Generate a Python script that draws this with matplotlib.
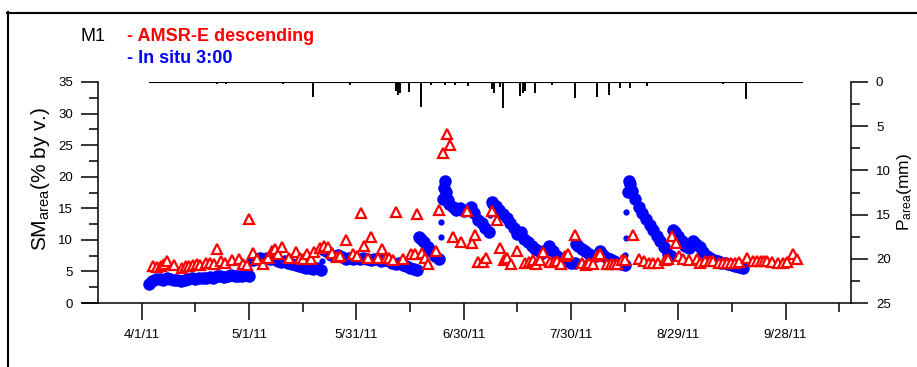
import matplotlib
matplotlib.use('Agg')
import matplotlib.pyplot as plt
import numpy as np
import pandas as pd
from matplotlib.lines import Line2D

plt.rcParams['font.family'] = ['Liberation Sans', 'DejaVu Sans']
plt.rcParams['mathtext.fontset'] = 'custom'
plt.rcParams['mathtext.rm'] = 'Liberation Sans'
plt.rcParams['mathtext.it'] = 'Liberation Sans:italic'

# ---------------- data (day offsets from 4/1/2011) ----------------
insitu_day = [2, 3, 4, 5, 6, 7, 8, 9, 10, 11, 12, 13, 14, 15, 16, 17, 18, 19, 20,
              21, 22, 23, 24, 25, 26, 27, 28, 29, 30,
              31, 32, 33, 34, 35, 36, 37, 38, 39, 40, 41, 42, 43, 44, 45, 46, 47, 48, 49, 50,
              51, 52, 53, 54, 55, 56, 57, 58, 59, 60, 61, 62, 63, 64, 65, 66, 67, 68, 69, 70,
              71, 72, 73, 74, 75, 76, 77,
              77.5, 78, 79, 80, 81, 82, 83,
              84.2, 84.5, 84.8, 85.2, 85.6,
              86, 87, 88, 89, 90, 91, 92, 93, 94, 95, 96, 97, 97.8, 98.3,
              99, 100, 101, 102, 103, 104, 105, 106, 107, 108, 109, 110, 111, 112, 113, 114,
              115, 116, 117, 118, 119, 120, 121, 121.5, 122, 123, 124, 125, 126, 127, 128,
              129, 130, 131, 132, 133, 134, 135,
              135.9, 136.2, 136.6,
              137, 138, 139, 140, 141, 142, 143, 144, 145, 146, 147, 148, 148.5, 149, 150,
              151, 152, 153, 154, 155, 156, 157, 158, 159, 160, 161, 162, 163, 164, 165,
              166, 167, 168]
insitu_sm = [3.0, 3.5, 3.8, 3.8, 3.7, 3.9, 3.8, 3.6, 3.7, 3.5, 3.7, 3.8, 3.9, 3.8, 3.9, 4.0, 3.9, 4.1, 4.0,
             4.2, 4.3, 4.1, 4.2, 4.4, 4.3, 4.2, 4.3, 4.4, 4.3,
             6.8, 7.0, 7.1, 7.0, 7.2, 7.0, 6.9, 6.7, 6.5, 6.6, 6.4, 6.2, 6.0, 5.8, 5.7, 5.5, 5.6, 5.4, 5.5, 5.3,
             8.4, 8.0, 7.6, 7.4, 7.6, 7.3, 7.0, 7.2, 6.9, 7.1, 7.0, 7.2, 7.0, 6.8, 7.0, 6.9, 6.7, 6.8, 6.6, 6.4,
             6.2, 6.3, 6.0, 5.8, 5.6, 5.4, 5.3,
             10.5, 10.2, 9.6, 8.9, 8.2, 7.5, 6.9,
             16.5, 18.2, 19.4, 17.6, 16.3,
             15.6, 15.2, 14.8, 15.0, 14.5, 14.8, 15.2, 14.2, 13.2, 12.6, 11.8, 11.2, 16.0, 15.6,
             15.3, 14.7, 14.1, 13.4, 12.6, 11.8, 11.0, 11.3, 10.2, 9.6, 9.0, 8.6, 8.2, 7.9, 8.4, 9.0,
             8.2, 7.5, 7.0, 6.8, 6.6, 6.4, 6.3, 9.3, 9.0, 8.6, 8.2, 7.8, 7.5, 7.4, 8.3,
             7.6, 7.2, 6.9, 6.6, 6.4, 6.2, 6.0,
             17.6, 19.4, 18.8,
             17.8, 16.5, 15.2, 14.2, 13.3, 12.4, 11.5, 10.6, 9.8, 8.8, 7.8, 7.4, 11.6, 11.2, 10.6,
             9.8, 9.0, 8.7, 9.8, 9.4, 8.8, 8.1, 7.5, 7.1, 6.8, 6.6, 6.4, 6.3, 6.1, 6.0,
             5.8, 5.7, 5.6]
# isolated in situ readings during rapid wetting
insitu_wet_day = [50.5, 83.6, 83.8, 97.5, 135.1, 135.3, 135.5]
insitu_wet_sm = [6.6, 10.5, 12.8, 14.0, 7.6, 10.3, 14.4]

amsr_day = [3.1, 4.2, 5.3, 6.1, 7.2, 9.0, 11.2, 12.4, 13.3, 14.4, 15.4, 16.3, 18.0, 19.1, 20.2,
            21.0, 22.1, 23.3, 25.2, 27.3, 28.4, 29.4, 30.1, 31.2, 32.1, 34.0, 35.2, 36.3, 37.3,
            38.2, 39.1, 41.3, 43.1, 44.3, 45.0, 46.1, 47.2, 48.2, 49.9, 51.0, 52.2, 53.1, 54.5,
            55.3, 57.1, 59.0, 60.1, 61.2, 62.2, 63.2, 64.2, 66.2, 67.1, 68.3, 69.2, 70.2, 71.1,
            73.1, 75.2, 76.4, 77.1, 78.3, 79.2, 80.1, 82.3, 83.0, 84.1, 85.3, 86.2, 87.1, 89.2,
            91.0, 92.3, 93.2, 94.1, 95.3, 96.3, 98.0, 99.2, 100.2, 101.3, 102.2, 103.2, 105.0,
            107.2, 108.4, 109.3, 110.2, 111.4, 112.3, 114.2, 115.3, 116.2, 117.1, 118.3, 119.3,
            121.1, 123.0, 124.2, 125.1, 126.3, 127.2, 128.1, 130.0, 131.1, 132.0, 133.0, 134.2,
            135.1, 137.3, 139.1, 140.4, 141.9, 143.0, 144.2, 146.3, 147.2, 148.2, 149.4, 150.3,
            151.2, 153.1, 155.2, 156.1, 157.6, 158.9, 159.8, 161.3, 162.4, 163.5, 164.7, 165.9,
            167.1, 169.1, 170.8, 171.9, 173.0, 174.0, 174.9, 176.1, 178.0, 179.2, 180.3, 182.2,
            183.3]
amsr_sm = [5.8, 5.7, 5.8, 6.2, 6.6, 6.0, 5.5, 5.8, 5.9, 6.0, 6.1, 6.0, 6.3, 6.3, 6.2,
           8.5, 6.6, 6.3, 6.8, 6.9, 6.2, 6.0, 13.3, 7.9, 6.9, 6.2, 7.1, 8.3, 8.5,
           7.7, 8.8, 7.1, 8.0, 7.2, 6.9, 7.8, 7.0, 8.0, 8.7, 9.1, 8.9, 7.9, 7.3,
           7.4, 10.0, 7.8, 7.4, 14.2, 9.0, 7.1, 10.5, 7.1, 8.5, 7.2, 7.1, 6.8, 14.4,
           6.9, 7.8, 7.8, 14.1, 7.9, 7.2, 6.2, 8.2, 14.7, 23.7, 26.8, 25.0, 10.5, 9.6,
           14.5, 9.5, 10.8, 6.5, 6.5, 7.2, 14.6, 13.2, 8.7, 6.8, 7.2, 6.2, 8.3,
           6.3, 6.5, 6.8, 6.2, 6.8, 8.1, 6.5, 6.5, 6.7, 6.1, 7.4, 7.7,
           10.8, 6.3, 6.0, 6.4, 6.2, 7.4, 7.7, 6.2, 6.2, 6.1, 6.2, 6.8,
           6.8, 10.8, 6.9, 6.6, 6.4, 6.3, 6.4, 6.8, 7.0, 10.6, 9.5, 7.4,
           6.9, 6.8, 7.0, 6.3, 6.7, 6.7, 6.7, 6.4, 6.3, 6.3, 6.3, 6.4,
           6.5, 7.2, 6.7, 6.7, 6.7, 6.7, 6.7, 6.5, 6.3, 6.4, 6.5, 7.7,
           6.9]

rain_start_day, rain_end_day = 2, 185
rain_day = [21, 23.6, 39.4, 47.8, 58.2, 71.1, 71.7, 72.2, 74.6, 78.1, 81.0, 84.8, 87.6,
            91.1, 97.8, 98.5, 100.2, 100.9, 105.8, 106.6, 107.2, 110.0, 114.6, 121.1,
            127.2, 130.7, 133.7, 136.5, 141.2, 158.0, 162.5, 168.9, 178.9]
rain_mm = [0.2, 0.2, 0.2, 1.7, 0.3, 1.0, 1.5, 1.3, 1.1, 2.8, 0.3, 0.3, 0.3,
           0.5, 0.8, 1.2, 0.6, 2.9, 1.6, 1.3, 1.0, 1.2, 0.3, 1.8,
           1.7, 1.5, 0.7, 0.7, 0.4, 0.1, 0.2, 1.9, 0.1]

x_major_days = [0, 30, 60, 90, 120, 150, 180]
x_labels = ['4/1/11', '5/1/11', '5/31/11', '6/30/11', '7/30/11', '8/29/11', '9/28/11']
x_minor_days = [15, 45, 75, 105, 135, 165, 195]

start = pd.Timestamp('2011-04-01')
def to_dates(days):
    return start + pd.to_timedelta(np.asarray(days, dtype=float), unit='D')

W, H = 917, 367
fig = plt.figure(figsize=(W / 100, H / 100), dpi=100)

ax_l, ax_r, ax_t, ax_b = 82, 851, 82, 303
ax = fig.add_axes([ax_l / W, 1 - ax_b / H, (ax_r - ax_l) / W, (ax_b - ax_t) / H])
ax2 = ax.twinx()

BLUE = '#0000FF'
RED = '#FF0000'
ax.plot(to_dates(insitu_day), insitu_sm, linestyle='none', marker='o', ms=9,
        mfc=BLUE, mec=BLUE, mew=0, zorder=3)
ax.plot(to_dates(insitu_wet_day), insitu_wet_sm, linestyle='none', marker='o', ms=4.5,
        mfc=BLUE, mec=BLUE, mew=0, zorder=3)
ax.plot(to_dates(amsr_day), amsr_sm, linestyle='none', marker='^', ms=7,
        mfc='white', mec=RED, mew=1.6, zorder=4)

ax2.hlines(0, to_dates([rain_start_day])[0], to_dates([rain_end_day])[0], color='black', lw=1.5)
ax2.vlines(to_dates(rain_day), 0, rain_mm, color='black', lw=1.4)

# x axis
day_left = -(141.7 - ax_l) / 3.577
day_right = (ax_r - 141.7) / 3.577
ax.set_xlim(to_dates([day_left])[0], to_dates([day_right])[0])
ax.set_xticks(to_dates(x_major_days))
ax.set_xticklabels(x_labels)
ax.set_xticks(to_dates(x_minor_days), minor=True)

ax.set_ylim(0, 35)
ax.set_yticks(np.arange(0, 36, 5))
ax.set_yticks(np.arange(0, 35.1, 2.5), minor=True)
ax2.set_ylim(25, 0)
ax2.set_yticks(np.arange(0, 26, 5))
ax2.set_yticks(np.arange(0, 25.1, 2.5), minor=True)

for a in (ax, ax2):
    a.spines['top'].set_visible(False)
    for s in a.spines.values():
        s.set_linewidth(1.1)
ax.spines['right'].set_visible(False)
ax2.spines['left'].set_visible(False)
ax2.spines['bottom'].set_visible(False)
ax.spines['left'].set_position(('axes', (98 - ax_l) / (ax_r - ax_l)))

ax.tick_params(axis='both', which='major', direction='out', length=12, width=1.1,
               labelsize=9.5, colors='black')
ax.tick_params(axis='both', which='minor', direction='out', length=6.5, width=1.1)
ax.tick_params(axis='y', which='major', pad=6)
ax.tick_params(axis='x', which='major', pad=7)
ax2.tick_params(axis='y', which='major', direction='out', length=12, width=1.1,
                labelsize=9.5, pad=6)
ax2.tick_params(axis='y', which='minor', direction='out', length=6.5, width=1.1)

ax.patch.set_visible(False)

# labels
fig.text(40 / W, 1 - 179 / H, 'SM$_{\\rm area}$(% by v.)', rotation=90, ha='center', va='center',
         fontsize=15)
fig.text(904 / W, 1 - 192 / H, 'P$_{\\rm area}$(mm)', rotation=90, ha='center', va='center',
         fontsize=12.5)

fig.text(80 / W, 1 - 40.7 / H, 'M1', fontsize=13, color='black', va='baseline')
fig.text(127 / W, 1 - 40.7 / H, '- AMSR-E descending', fontsize=13, color=RED,
         fontweight='bold', va='baseline')
fig.text(127 / W, 1 - 63 / H, '- In situ 3:00', fontsize=13, color=BLUE,
         fontweight='bold', va='baseline')

# outer frame
fig.add_artist(Line2D([7.5 / W, 7.5 / W], [1 - 12 / H, 0], transform=fig.transFigure,
                      color='black', lw=1.5))
fig.add_artist(Line2D([7 / W, 1], [1 - 12.5 / H, 1 - 12.5 / H], transform=fig.transFigure,
                      color='black', lw=1.5))

fig.savefig('out.png', dpi=100)
